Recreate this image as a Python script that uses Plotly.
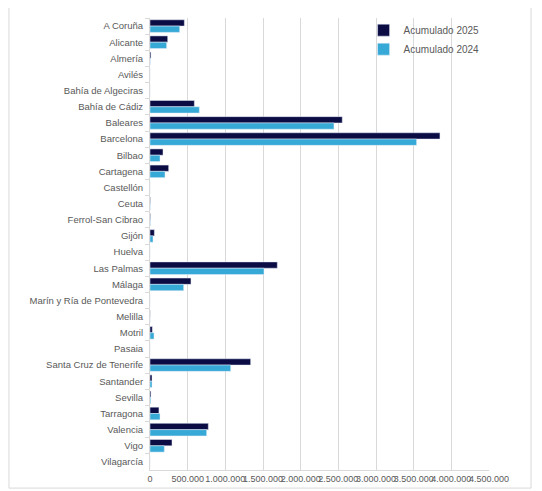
import plotly.graph_objects as go

puertos = [
    "A Coruña", "Alicante", "Almería", "Avilés", "Bahía de Algeciras",
    "Bahía de Cádiz", "Baleares", "Barcelona", "Bilbao", "Cartagena",
    "Castellón", "Ceuta", "Ferrol-San Cibrao", "Gijón", "Huelva",
    "Las Palmas", "Málaga", "Marín y Ría de Pontevedra", "Melilla", "Motril",
    "Pasaia", "Santa Cruz de Tenerife", "Santander", "Sevilla", "Tarragona",
    "Valencia", "Vigo", "Vilagarcía",
]

acumulado_2025 = [
    456000, 235000, 13000, 0, 0,
    589000, 2552000, 3849000, 173000, 248000,
    0, 5000, 6000, 58000, 0,
    1690000, 544000, 0, 2000, 31000,
    0, 1336000, 27000, 13000, 119000,
    774000, 292000, 0,
]

acumulado_2024 = [
    394000, 221000, 3000, 0, 0,
    655000, 2442000, 3539000, 133000, 199000,
    0, 3000, 5000, 40000, 0,
    1513000, 447000, 0, 1000, 53000,
    0, 1071000, 27000, 10000, 133000,
    752000, 190000, 0,
]

x_ticks = [0, 500000, 1000000, 1500000, 2000000, 2500000, 3000000, 3500000, 4000000, 4500000]

fig = go.Figure()
fig.add_trace(go.Bar(
    name="Acumulado 2025", y=puertos, x=acumulado_2025,
    orientation="h", marker=dict(color="#0c0c45"),
))
fig.add_trace(go.Bar(
    name="Acumulado 2024", y=puertos, x=acumulado_2024,
    orientation="h", marker=dict(color="#37a9d7"),
))

# the page body adds an 8px offset, so the figure is a bit smaller than the window
grey = "#d9d9d9"
fig.update_layout(
    width=534, height=483,
    margin=dict(l=142, r=53, t=9, b=21),
    barmode="group", bargap=0.22, bargroupgap=0,
    plot_bgcolor="white", paper_bgcolor="white",
    separators=",.",
    font=dict(family="Liberation Sans, Arial, sans-serif", size=9.5, color="#595959"),
    legend=dict(
        x=0.63, y=1.003, xanchor="left", yanchor="top",
        bgcolor="rgba(0,0,0,0)", font=dict(size=10, color="#595959"),
        tracegroupgap=0, itemwidth=30,
    ),
    xaxis=dict(
        range=[0, 4500000], tickvals=x_ticks, tickformat=",d",
        showgrid=True, gridcolor=grey, gridwidth=1,
        zeroline=False, showline=True, linecolor=grey,
        ticks="", tickfont=dict(size=9), tickangle=0, automargin=False,
    ),
    yaxis=dict(
        autorange="reversed", showgrid=False, zeroline=False,
        showline=True, linecolor=grey, ticks="outside", ticklen=4,
        tickcolor=grey, tickson="boundaries", ticklabelstandoff=4,
        automargin=False,
    ),
    shapes=[dict(
        type="rect", xref="paper", yref="paper",
        x0=-0.416, x1=1.124, y0=-0.040, y1=1.024,
        line=dict(color=grey, width=1),
    )],
)

fig.write_html("out.html")
